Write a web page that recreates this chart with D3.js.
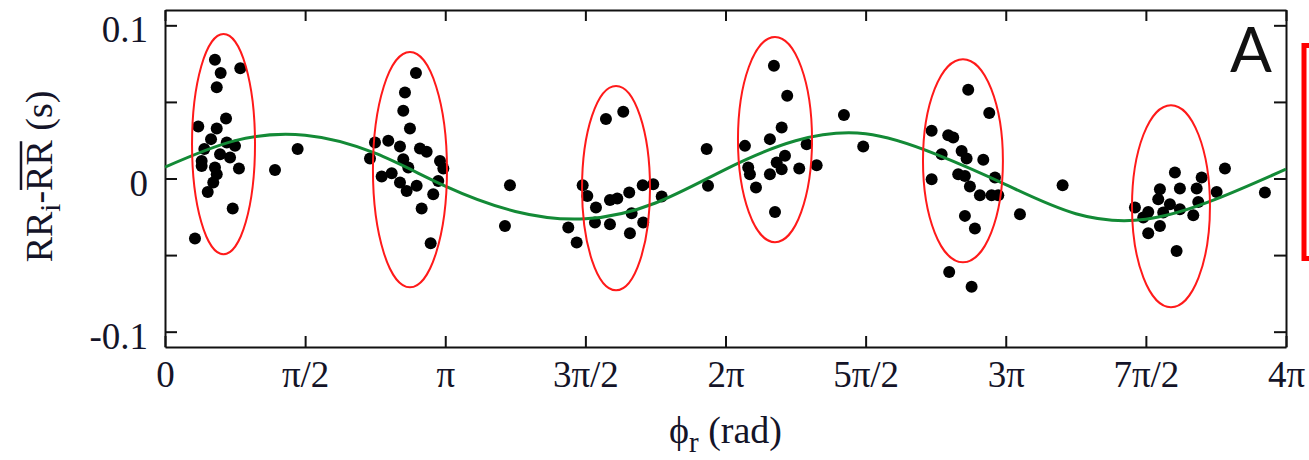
<!DOCTYPE html>
<html>
<head>
<meta charset="utf-8">
<script src="https://cdn.jsdelivr.net/npm/d3@7"></script>
<style>
  html, body { margin: 0; padding: 0; background: #fff; }
  svg { display: block; }
  .axis text { font-family: "Liberation Serif", "DejaVu Serif", serif; font-size: 37px; fill: #141428; }
  .axis line, .axis path { stroke: #111; stroke-width: 2px; }
  .title { font-family: "Liberation Serif", "DejaVu Serif", serif; font-size: 38px; fill: #141428; }
</style>
</head>
<body>
<div id="chart"></div>
<script>
/*** data ***/

// points: phase (rad) and RR deviation (s)
var pointPhi = [
  0.560, 0.844, 0.624, 0.580, 0.684, 0.373, 0.580, 0.516, 0.692, 0.785, 0.441, 0.617,
  0.411, 0.729, 0.411, 0.560, 0.829, 0.580, 0.541, 0.479, 0.759, 0.336, 1.233, 1.487,
  2.813, 2.690, 2.671, 2.746, 2.354, 2.503, 2.634, 2.858, 2.933, 2.298, 2.671, 3.083,
  3.120, 2.727, 2.541, 2.429, 2.634, 2.821, 2.709, 3.063, 3.007, 2.877, 2.978, 3.867, 3.811,
  4.943, 5.137, 4.682, 4.734, 4.831, 4.988, 5.070, 5.204, 5.355, 5.473, 5.568, 5.231,
  4.820, 4.988, 5.361, 5.212, 4.521, 4.615, 6.072, 6.087,
  6.826, 6.975, 7.611, 6.913, 6.781, 6.501, 7.193, 7.827, 6.950, 6.857, 6.538, 6.557,
  6.781, 6.913, 7.110, 7.305, 6.625, 6.838,
  9.004, 9.240, 8.594, 8.780, 8.836, 8.706, 8.930, 8.986, 9.173, 8.594, 8.892, 8.967,
  9.304, 9.023, 9.135, 9.266, 9.341, 8.967, 9.079, 9.584, 10.062, 8.791, 9.042,
  11.882, 11.321, 11.621, 11.153, 11.377, 11.565, 11.789, 11.134, 11.265, 11.583, 10.873,
  11.022, 11.377, 11.190, 11.527, 10.966, 11.153, 11.022, 11.340, 12.330
];
var pointRR = [
  0.0775, 0.0719, 0.0688, 0.0595, 0.0392, 0.0340, 0.0327, 0.0257, 0.0235, 0.0213, 0.0192, 0.0159,
  0.0115, 0.0137, 0.0082, 0.0072, 0.0065, 0.0028, -0.0026, -0.0088, -0.0196, -0.0392, 0.0056, 0.0192,
  0.0688, 0.0562, 0.0442, 0.0327, 0.0235, 0.0246, 0.0209, 0.0196, 0.0174, 0.0131, 0.0126, 0.0115,
  0.0065, 0.0072, 0.0035, 0.0013, -0.0026, -0.0048, -0.0081, -0.0016, -0.0103, -0.0196, -0.0423, -0.0044, -0.0310,
  0.0388, 0.0435, -0.0044, -0.0114, -0.0190, -0.0140, -0.0131, -0.0092, -0.0044, -0.0037, -0.0118, -0.0227,
  -0.0288, -0.0299, -0.0288, -0.0358, -0.0320, -0.0418, 0.0192, -0.0048,
  0.0736, 0.0540, 0.0414, 0.0333, 0.0257, 0.0213, 0.0224, 0.0209, 0.0148, 0.0105, 0.0072, 0.0028,
  0.0028, 0.0061, 0.0065, 0.0087, -0.0059, -0.0218,
  0.0579, 0.0427, 0.0311, 0.0283, 0.0268, 0.0159, 0.0180, 0.0131, 0.0122, -0.0005, 0.0028, 0.0017,
  0.0007, -0.0052, -0.0109, -0.0109, -0.0109, -0.0244, -0.0327, -0.0233, -0.0044, -0.0610, -0.0706,
  0.0065, 0.0039, 0.0007, -0.0070, -0.0065, -0.0065, -0.0088, -0.0135, -0.0168, -0.0153, -0.0190,
  -0.0218, -0.0201, -0.0222, -0.0240, -0.0255, -0.0310, -0.0358, -0.0473, -0.0092
];

// fitted curve, sampled every pi/4
var curvePhi = d3.range(17).map(function(k) { return k * Math.PI / 4; });
var curveRR = [0.0074, 0.0247, 0.0283, 0.0165, -0.0050, -0.0215, -0.0263, -0.0160, 0.0060,
  0.0246, 0.0292, 0.0159, -0.0040, -0.0230, -0.0266, -0.0135, 0.0061];

// red ellipses round the clusters (centre and half axes in data units)
var ellipseCx = [0.656, 2.746, 5.056, 6.838, 8.945, 11.277];
var ellipseCy = [0.0224, 0.0058, -0.0063, 0.0254, 0.0116, -0.0181];
var ellipseRx = [0.353, 0.415, 0.381, 0.415, 0.448, 0.437];
var ellipseRy = [0.0719, 0.0768, 0.0667, 0.0670, 0.0663, 0.0660];

// ticks
var xTicks = d3.range(9).map(function(k) { return k * Math.PI / 2; });
var xTickLabels = ["0", "\u03c0/2", "\u03c0", "3\u03c0/2", "2\u03c0", "5\u03c0/2", "3\u03c0", "7\u03c0/2", "4\u03c0"];
var yTicks = [-0.1, -0.05, 0, 0.05, 0.1];
var yTickLabels = ["-0.1", "", "0", "", "0.1"];

/*** canvas ***/
var W = 1309, H = 460;
var margin = { top: 10, right: 23, bottom: 113, left: 165 };
var width = W - margin.left - margin.right;
var height = H - margin.top - margin.bottom;

var svg = d3.select("#chart").append("svg")
  .attr("width", W)
  .attr("height", H);

var g = svg.append("g")
  .attr("transform", "translate(" + margin.left + "," + margin.top + ")");

var x = d3.scaleLinear().domain([0, 4 * Math.PI]).range([0, width]);
var y = d3.scaleLinear().domain([-0.11, 0.11]).range([height, 0]);

// axes, ticks pointing inward on all four sides
g.append("g").attr("class", "axis")
  .attr("transform", "translate(0," + height + ")")
  .call(d3.axisBottom(x).tickValues(xTicks).tickSizeInner(-11).tickSizeOuter(0).tickPadding(14)
    .tickFormat(function(d, i) { return xTickLabels[i]; }));

g.append("g").attr("class", "axis")
  .call(d3.axisTop(x).tickValues(xTicks).tickSizeInner(-11).tickSizeOuter(0).tickFormat(""));

g.append("g").attr("class", "axis axis-y")
  .call(d3.axisLeft(y).tickValues(yTicks).tickSizeInner(-12).tickSizeOuter(0).tickPadding(17)
    .tickFormat(function(d, i) { return yTickLabels[i]; }));

g.append("g").attr("class", "axis")
  .attr("transform", "translate(" + width + ",0)")
  .call(d3.axisRight(y).tickValues(yTicks).tickSizeInner(-12).tickSizeOuter(0).tickFormat(""));

g.selectAll(".axis-y text").attr("dy", "0.45em");
g.selectAll(".axis path").attr("fill", "none");

// dots
g.append("g").selectAll("circle")
  .data(pointPhi)
  .enter().append("circle")
    .attr("cx", function(d) { return x(d); })
    .attr("cy", function(d, i) { return y(pointRR[i]); })
    .attr("r", 6)
    .attr("fill", "#000");

// green fitted curve
var line = d3.line()
  .x(function(d) { return x(d); })
  .y(function(d, i) { return y(curveRR[i]); })
  .curve(d3.curveNatural);

g.append("path")
  .datum(curvePhi)
  .attr("d", line)
  .attr("fill", "none")
  .attr("stroke", "#138a36")
  .attr("stroke-width", 3);

// red ellipses
g.append("g").selectAll("ellipse")
  .data(ellipseCx)
  .enter().append("ellipse")
    .attr("cx", function(d) { return x(d); })
    .attr("cy", function(d, i) { return y(ellipseCy[i]); })
    .attr("rx", function(d, i) { return x(ellipseRx[i]) - x(0); })
    .attr("ry", function(d, i) { return y(0) - y(ellipseRy[i]); })
    .attr("fill", "none")
    .attr("stroke", "#ff1a1a")
    .attr("stroke-width", 2);

// panel letter
g.append("text")
  .attr("x", width - 14)
  .attr("y", 62)
  .attr("text-anchor", "end")
  .style("font-family", "Lato, 'Open Sans', sans-serif")
  .style("font-size", "62px")
  .style("fill", "#111")
  .text("A");

// red bracket cut by the right edge
svg.append("rect")
  .attr("x", 1304)
  .attr("y", 45.5)
  .attr("width", 30)
  .attr("height", 213)
  .attr("fill", "none")
  .attr("stroke", "#ff0000")
  .attr("stroke-width", 5);

// x title
var xt = svg.append("text")
  .attr("class", "title")
  .attr("x", margin.left + width / 2)
  .attr("y", 443)
  .attr("text-anchor", "middle");
xt.append("tspan").text("\u03d5");
xt.append("tspan").attr("dy", 9).style("font-size", "29px").text("r");
xt.append("tspan").attr("dy", -9).text(" (rad)");

// y title, rotated, with an overline on the mean
var yg = svg.append("g")
  .attr("transform", "translate(52," + (margin.top + height / 2 - 2) + ") rotate(-90)");
var yt = yg.append("text")
  .attr("class", "title")
  .attr("x", 0)
  .attr("y", 0)
  .attr("text-anchor", "middle");
yt.append("tspan").text("RR");
yt.append("tspan").attr("dy", 8).style("font-size", "29px").text("i");
yt.append("tspan").attr("dy", -8).text("-RR (s)");

var node = yt.node();
var x0 = node.getStartPositionOfChar(4).x;
var x1 = node.getEndPositionOfChar(5).x;
yg.append("line")
  .attr("x1", x0 + 1)
  .attr("x2", x1 - 1)
  .attr("y1", -31)
  .attr("y2", -31)
  .attr("stroke", "#141428")
  .attr("stroke-width", 2.5);
</script>
</body>
</html>
